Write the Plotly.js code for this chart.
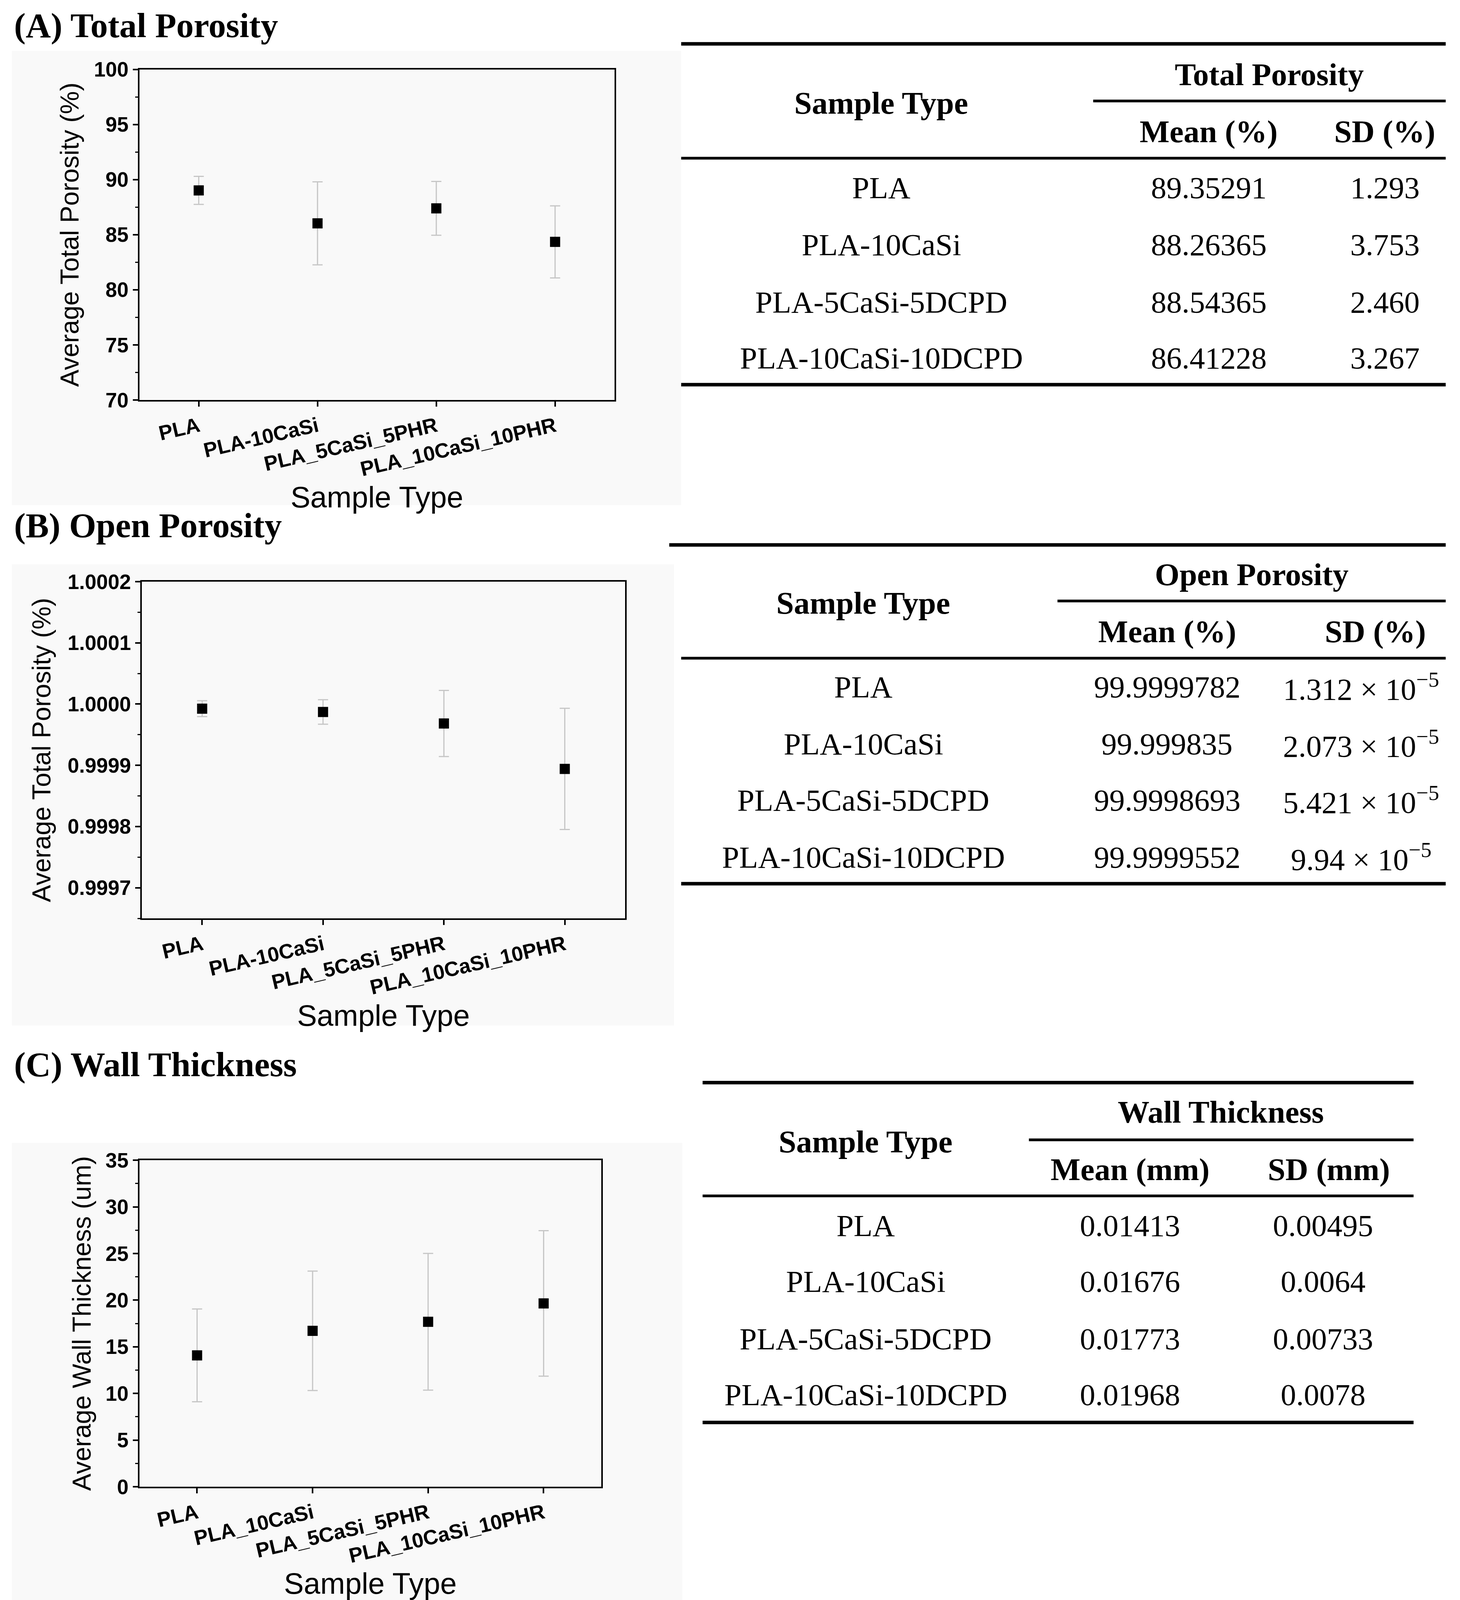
<!DOCTYPE html>
<html>
<head>
<meta charset="utf-8">
<script src="https://cdn.plot.ly/plotly-3.0.1.min.js"></script>
<style>html,body{margin:0;padding:0;background:#fff;overflow:hidden;}</style>
</head>
<body>
<div id="chart"></div>
<script>
// ---------- data ----------
const catsAB = ['PLA', 'PLA-10CaSi', 'PLA_5CaSi_5PHR', 'PLA_10CaSi_10PHR'];
const catsC = ['PLA', 'PLA_10CaSi', 'PLA_5CaSi_5PHR', 'PLA_10CaSi_10PHR'];
const totalMean = [89.02, 86.03, 87.39, 84.35];
const totalErr = [1.27, 3.77, 2.44, 3.27];
const openMean = [0.9999925, 0.9999871, 0.9999683, 0.9998941];
const openErr = [0.000013, 0.000020, 0.000054, 0.000099];
const wallMean = [14.08, 16.71, 17.68, 19.65];
const wallErr = [4.97, 6.40, 7.33, 7.80];

const tableSamples = ['PLA', 'PLA-10CaSi', 'PLA-5CaSi-5DCPD', 'PLA-10CaSi-10DCPD'];
const tpMean = ['89.35291', '88.26365', '88.54365', '86.41228'];
const tpSD = ['1.293', '3.753', '2.460', '3.267'];
const opMean = ['99.9999782', '99.999835', '99.9998693', '99.9999552'];
const opSDCoef = ['1.312', '2.073', '5.421', '9.94'];
const wtMean = ['0.01413', '0.01676', '0.01773', '0.01968'];
const wtSD = ['0.00495', '0.0064', '0.00733', '0.0078'];

// ---------- geometry: fill the visible viewport ----------
const W = window.innerWidth || 3737;
const H = window.innerHeight || 4778;
const el = document.getElementById('chart');
el.style.width = W + 'px';
el.style.height = H + 'px';
// positions are given in a 1226 x 1568 reference frame and converted to paper fractions
const X = p => p / 1226;
const Y = p => 1 - p / 1568;
const FX = W / 3737;                     // horizontal size factor (text widths)
const FY = H / 4778;                     // vertical size factor
const FM = Math.sqrt(FX * FY);           // marks
const zx = n => Math.round(n * FX);
const zy = n => Math.round(n * Math.max(FY, 0.5));
const zm = n => Math.round(n * FM);
const tiltDeg = -Math.round(Math.atan(Math.tan(15 * Math.PI / 180) * FY / FX) * 180 / Math.PI);

const xTitleFont = {family: 'Liberation Sans, Arial, sans-serif', size: zx(76), color: '#000'};
const yTitleFont = {family: 'Liberation Sans, Arial, sans-serif', size: Math.round(76 * Math.pow(FY, 0.9)), color: '#000'};
const tickFont = {family: 'Liberation Sans, Arial, sans-serif', size: zx(53), color: '#000', weight: 'bold'};
const serif = 'Liberation Serif, Times New Roman, serif';

function markerTrace(cats, mean, err, xa, ya) {
  return {
    type: 'scatter', mode: 'markers', x: cats, y: mean, xaxis: xa, yaxis: ya,
    marker: {symbol: 'square', size: zm(28), color: '#000'},
    error_y: {type: 'data', array: err, visible: true, color: '#c6c6c6', thickness: 3, width: zm(14)},
    showlegend: false, hoverinfo: 'skip'
  };
}

function xAxis(l, r, anchor, cats, standoff) {
  return {
    domain: [X(l), X(r)], anchor: anchor, type: 'category',
    categoryorder: 'array', categoryarray: cats, range: [-0.5, 3.5],
    showline: true, mirror: true, linecolor: '#000', linewidth: 4,
    ticks: 'outside', ticklen: zm(14), tickwidth: 4, tickcolor: '#000',
    tickangle: tiltDeg, tickfont: tickFont, showgrid: false, zeroline: false,
    title: {text: 'Sample Type', font: xTitleFont, standoff: zy(standoff)}
  };
}
function yAxis(t, b, anchor, range, dtick, tick0, fmt, title, standoff) {
  return {
    domain: [Y(b), Y(t)], anchor: anchor, range: range, dtick: dtick, tick0: tick0,
    tickformat: fmt, showline: true, mirror: true, linecolor: '#000', linewidth: 4,
    ticks: 'outside', ticklen: zm(14), tickwidth: 4, tickcolor: '#000',
    minor: {ticks: 'outside', ticklen: zm(8), tickwidth: 3, tickcolor: '#000', dtick: dtick / 2, tick0: tick0, showgrid: false},
    tickfont: tickFont, showgrid: false, zeroline: false,
    title: {text: title, font: yTitleFont, standoff: zx(standoff)}
  };
}

const data = [
  markerTrace(catsAB, totalMean, totalErr, 'x', 'y'),
  markerTrace(catsAB, openMean, openErr, 'x2', 'y2'),
  markerTrace(catsC, wallMean, wallErr, 'x3', 'y3')
];

const shapes = [];
const annotations = [];

// light textured background of the pasted plot images
[[10, 50, 572, 495], [10, 553, 566, 1005], [10, 1120, 573, 1568]].forEach(([l, t, r, b]) => {
  shapes.push({type: 'rect', xref: 'paper', yref: 'paper', x0: X(l), x1: X(r), y0: Y(b), y1: Y(t),
    fillcolor: '#f9f9f9', line: {width: 0}, layer: 'below'});
});

// panel titles
[['(A) Total Porosity', 25], ['(B) Open Porosity', 515], ['(C) Wall Thickness', 1043]].forEach(([txt, y]) => {
  annotations.push({text: '<b>' + txt + '</b>', xref: 'paper', yref: 'paper', x: X(11), y: Y(y),
    xanchor: 'left', yanchor: 'middle', showarrow: false, font: {family: serif, size: zx(89), color: '#000'}});
});

// tables
function hline(x0, x1, y, w) {
  shapes.push({type: 'line', xref: 'paper', yref: 'paper', x0: X(x0), x1: X(x1), y0: Y(y), y1: Y(y), line: {color: '#000', width: w}});
}
function txt(t, x, y, bold) {
  annotations.push({text: bold ? '<b>' + t + '</b>' : t, xref: 'paper', yref: 'paper', x: X(x), y: Y(y),
    xanchor: 'center', yanchor: 'middle', showarrow: false,
    font: {family: serif, size: zx(bold ? 81 : 79), color: '#000'}});
}
function table(g, meanCol, sdCol) {
  hline(g.topLeft, g.right, g.top, 9);
  hline(g.subLeft, g.right, g.sub, 7);
  hline(g.left, g.right, g.mid, 7);
  hline(g.left, g.right, g.bottom, 9);
  txt(g.group, g.groupX, g.groupY, true);
  txt('Sample Type', g.sampleX, g.sampleY, true);
  txt(g.meanLabel, g.meanX, g.headY, true);
  txt(g.sdLabel, g.sdHeadX, g.headY, true);
  g.rows.forEach((ry, i) => {
    txt(tableSamples[i], g.sampleX, ry, false);
    txt(meanCol[i], g.meanX, ry, false);
    txt(sdCol[i], g.sdX, ry, false);
  });
}
table({left: 572, topLeft: 572, right: 1214, top: 43, sub: 99, subLeft: 918, mid: 155, bottom: 377,
  group: 'Total Porosity', groupX: 1066, groupY: 73, sampleX: 740, sampleY: 101,
  meanLabel: 'Mean (%)', sdLabel: 'SD (%)', meanX: 1015, sdX: 1163, sdHeadX: 1163, headY: 129,
  rows: [184, 240, 296, 351]}, tpMean, tpSD);
table({left: 572, topLeft: 562, right: 1214, top: 534, sub: 589, subLeft: 888, mid: 645, bottom: 866,
  group: 'Open Porosity', groupX: 1051, groupY: 563, sampleX: 725, sampleY: 591,
  meanLabel: 'Mean (%)', sdLabel: 'SD (%)', meanX: 980, sdX: 1143, sdHeadX: 1155, headY: 619,
  rows: [673, 729, 784, 840]}, opMean, opSDCoef.map(c => c + ' × 10<sup>−5</sup>'));
table({left: 590, topLeft: 590, right: 1187, top: 1061, sub: 1117, subLeft: 864, mid: 1172, bottom: 1394,
  group: 'Wall Thickness', groupX: 1025, groupY: 1090, sampleX: 727, sampleY: 1119,
  meanLabel: 'Mean (mm)', sdLabel: 'SD (mm)', meanX: 949, sdX: 1111, sdHeadX: 1116, headY: 1146,
  rows: [1201, 1256, 1312, 1367]}, wtMean, wtSD);

const layout = {
  width: W, height: H, margin: {l: 0, r: 0, t: 0, b: 0},
  paper_bgcolor: '#fff', plot_bgcolor: 'rgba(0,0,0,0)',
  showlegend: false,
  xaxis: xAxis(117, 516, 'y', catsAB, 14),
  yaxis: yAxis(68, 392, 'x', [70, 100], 5, 70, 'd', 'Average Total Porosity (%)', 18),
  xaxis2: xAxis(119, 525, 'y2', catsAB, 5),
  yaxis2: yAxis(570, 900, 'x2', [0.99965, 1.0002], 0.0001, 0.9997, '.4f', 'Average Total Porosity (%)', 23),
  xaxis3: xAxis(117, 505, 'y3', catsC, 14),
  yaxis3: yAxis(1137, 1457, 'x3', [0, 35], 5, 0, 'd', 'Average Wall Thickness (um)', 17),
  shapes: shapes,
  annotations: annotations
};

Plotly.newPlot('chart', data, layout, {staticPlot: true, displayModeBar: false});
</script>
</body>
</html>
